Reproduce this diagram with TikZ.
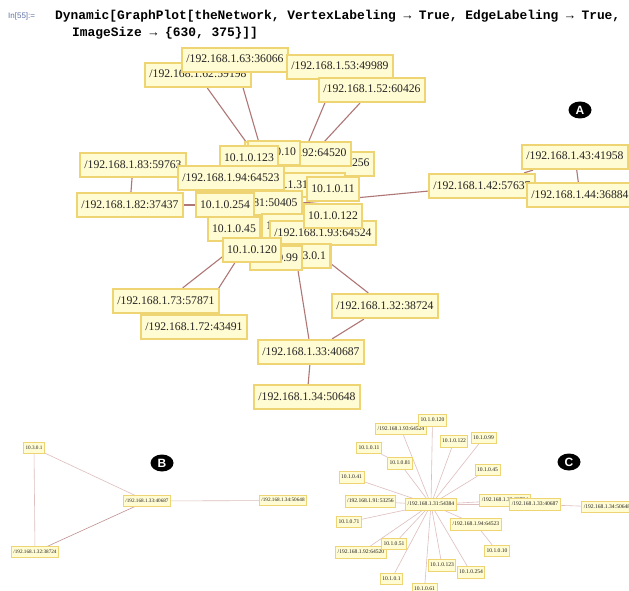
\documentclass[tikz,border=0pt]{standalone}
\usepackage{fontspec}
\setmainfont{Liberation Serif}
\newfontfamily\monob{Liberation Mono}
\newfontfamily\sansf{Liberation Sans}
\usetikzlibrary{shapes.geometric,calc,backgrounds}
\definecolor{boxfill}{RGB}{255,251,210}
\definecolor{boxline}{RGB}{238,212,115}
\definecolor{edgeAcol}{RGB}{175,118,118}
\definecolor{edgeCcol}{RGB}{222,190,190}
\definecolor{hdr}{RGB}{95,115,165}
\definecolor{txt}{RGB}{35,35,35}
\tikzset{
  boxA/.style={draw=boxline, fill=boxfill, line width=2.2pt, inner xsep=4.4pt, inner ysep=0pt,
    text height=8.6pt, text depth=2.6pt, minimum height=24pt, text=txt,
    font=\fontsize{11.7}{12}\selectfont},
  boxB/.style={draw=boxline, fill=boxfill, line width=0.8pt, inner xsep=2pt, inner ysep=0pt,
    text height=3.8pt, text depth=1.1pt, minimum height=10.5pt, text=txt,
    font=\fontsize{5.2}{6}\selectfont},
  boxC/.style={draw=boxline, fill=boxfill, line width=0.9pt, inner xsep=2pt, inner ysep=0pt,
    text height=4.1pt, text depth=1.2pt, minimum height=11.5pt, text=txt,
    font=\fontsize{5.6}{6}\selectfont},
  edgeA/.style={draw=edgeAcol, line width=1.1pt},
  edgeC/.style={draw=edgeCcol, line width=0.6pt},
  badge/.style={ellipse, fill=black, text=white, inner sep=0pt, minimum width=23pt,
    minimum height=17pt, font=\sansf\bfseries\fontsize{12}{12}\selectfont},
  hdrtext/.style={anchor=west, inner sep=0pt, font=\monob\bfseries\fontsize{12.9}{14}\selectfont, text=black}
}
\begin{document}
\begin{tikzpicture}[x=1pt,y=-1pt]
\useasboundingbox (0,0) rectangle (629,591);

% header
\node[anchor=west, inner sep=0pt, text=hdr, font=\sansf\fontsize{8}{9}\selectfont] (inlab) at (8,16) {In[55]:=};
\node[hdrtext] (code1) at (55,16) {Dynamic[GraphPlot[theNetwork, VertexLabeling → True, EdgeLabeling → True,};
\node[hdrtext] (code2) at (72,33) {ImageSize → \{630, 375\}]]};

% ---------- graph A ----------
\node[boxA] (a62) at (198,75) {/192.168.1.62:59198};
\node[boxA] (a63) at (235,60) {/192.168.1.63:36066};
\node[boxA] (a53) at (340,67) {/192.168.1.53:49989};
\node[boxA] (a52) at (372,90) {/192.168.1.52:60426};
\node[boxA] (a83) at (133,165) {/192.168.1.83:59763};
\node[boxA] (a82) at (130,205) {/192.168.1.82:37437};
\node[boxA] (a42) at (482,186) {/192.168.1.42:57637};
\node[boxA] (a43) at (575,157) {/192.168.1.43:41958};
\node[boxA] (a44) at (580,195) {/192.168.1.44:36884};
\node[boxA] (a73) at (166,301) {/192.168.1.73:57871};
\node[boxA] (a72) at (194,327) {/192.168.1.72:43491};
\node[boxA] (a32) at (385,306) {/192.168.1.32:38724};
\node[boxA] (a33) at (311,352) {/192.168.1.33:40687};
\node[boxA] (a34) at (307,397) {/192.168.1.34:50648};
% cluster
\node[boxA] (a91) at (321,164) {/192.168.1.91:53256};
\node[boxA] (a31) at (292,185) {/192.168.1.31:54384};
\node[boxA] (a92) at (298,154) {/192.168.1.92:64520};
\node[boxA] (a10) at (274,153) {10.1.0.10};
\node[boxA] (a123) at (249,158) {10.1.0.123};
\node[boxA] (a94) at (231,178) {/192.168.1.94:64523};
\node[boxA] (a81) at (249,203) {/192.168.1.81:50405};
\node[boxA] (a254) at (225,205) {10.1.0.254};
\node[boxA] (a71) at (288,226) {10.1.0.71};
\node[boxA] (a11) at (333,189) {10.1.0.11};
\node[boxA] (a93) at (323,233) {/192.168.1.93:64524};
\node[boxA] (a122) at (333,216) {10.1.0.122};
\node[boxA] (a45) at (234,229) {10.1.0.45};
\node[boxA] (a3) at (307,256) {10.3.0.1};
\node[boxA] (a99) at (276,258) {10.1.0.99};
\node[boxA] (a120) at (252,250) {10.1.0.120};

\node[badge] (bA) at (580,110) {A};

% ---------- graph B ----------
\node[boxB] (b3) at (34,448) {10.3.0.1};
\node[boxB] (b33) at (147,501) {/192.168.1.33:40687};
\node[boxB] (b34) at (283,500.5) {/192.168.1.34:50648};
\node[boxB] (b32) at (35,552) {/192.168.1.32:38724};
\node[badge] (bB) at (162,463) {B};

% ---------- graph C ----------
\node[boxC] (c31) at (431,504.5) {/192.168.1.31:54384};
\node[boxC] (c93) at (401,429) {/192.168.1.93:64524};
\node[boxC] (c120) at (432.5,420.5) {10.1.0.120};
\node[boxC] (c122) at (454,441.5) {10.1.0.122};
\node[boxC] (c99) at (483.5,438) {10.1.0.99};
\node[boxC] (c11) at (369,448) {10.1.0.11};
\node[boxC] (c81) at (400,463.5) {10.1.0.81};
\node[boxC] (c45) at (487.5,470) {10.1.0.45};
\node[boxC] (c41) at (351.5,477.5) {10.1.0.41};
\node[boxC] (c91) at (370.5,501.5) {/192.168.1.91:53256};
\node[boxC] (c71) at (349,522) {10.1.0.71};
\node[boxC] (c32) at (505,500.5) {/192.168.1.32:38724};
\node[boxC] (c33) at (535,504.5) {/192.168.1.33:40687};
\node[boxC] (c34) at (607,507) {/192.168.1.34:50648};
\node[boxC] (c94) at (476,524.5) {/192.168.1.94:64523};
\node[boxC] (c10) at (497,551) {10.1.0.10};
\node[boxC] (c92) at (361,552.5) {/192.168.1.92:64520};
\node[boxC] (c51) at (394,544) {10.1.0.51};
\node[boxC] (c123) at (442,565.5) {10.1.0.123};
\node[boxC] (c254) at (471,572.5) {10.1.0.254};
\node[boxC] (c1) at (391.5,579) {10.1.0.1};
\node[boxC] (c61) at (424.5,589) {10.1.0.61};
\node[badge] (bC) at (569,462) {C};

\begin{scope}[on background layer]
  \fill[white] (0,0) rectangle (629,591);
  % A edges
  \draw[edgeA] (a62) -- ($(a123)+(10,2)$);
  \draw[edgeA] (a63) -- ($(a123)+(15,2)$);
  \draw[edgeA] (a53) -- ($(a92)+(5,1)$);
  \draw[edgeA] (a52) -- ($(a92)+(14,1)$);
  \draw[edgeA] (a83) -- (a82);
  \draw[edgeA] (a82) -- (a254);
  \draw[edgeA] ($(a81)+(0,5)$) -- (a42);
  \draw[edgeA] (a42) -- (a43);
  \draw[edgeA] (a43) -- (a44);
  \draw[edgeA] (a73) -- ($(a120)+(-21,0)$);
  \draw[edgeA] (a72) -- ($(a120)+(-9,0)$);
  \draw[edgeA] (a33) -- ($(a99)+(20,0)$);
  \draw[edgeA] (a32) -- ($(a3)+(14,0)$);
  \draw[edgeA] (a32) -- (a33);
  \draw[edgeA] (a33) -- (a34);
  % B edges
  \draw[edgeC] (b3) -- (b33);
  \draw[edgeC] (b3) -- (b32);
  \draw[edgeC, draw=edgeAcol!80] (b32) -- (b33);
  \draw[edgeC] (b33) -- (b34);
  % C edges
  \foreach \n in {c120,c93,c122,c99,c81,c45,c41,c91,c71,c32,c33,c94,c51,c92,c123,c254,c1,c61}
    \draw[edgeC] (c31) -- (\n);
  \draw[edgeC] (c11) -- (c81);
  \draw[edgeC] (c94) -- (c10);
  \draw[edgeC] (c33) -- (c34);
\end{scope}
\end{tikzpicture}
\end{document}
